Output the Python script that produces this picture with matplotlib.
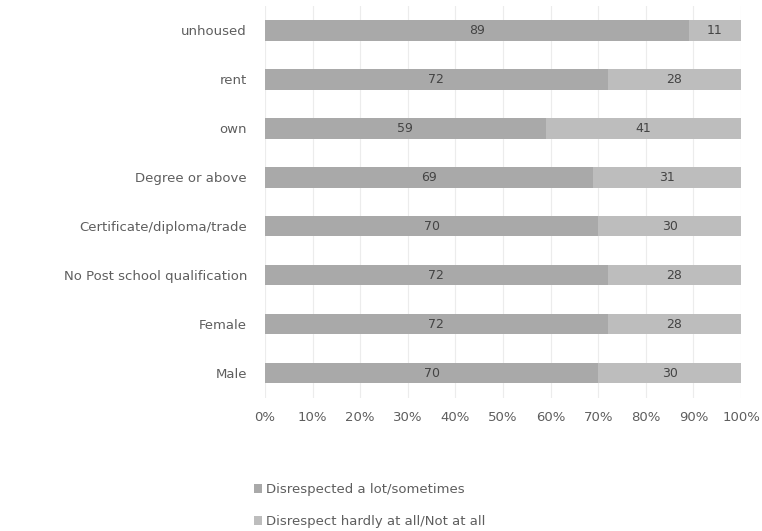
import numpy as np
import matplotlib.pyplot as plt

# categories listed bottom to top
categories = ['Male', 'Female', 'No Post school qualification',
              'Certificate/diploma/trade', 'Degree or above',
              'own', 'rent', 'unhoused']
disrespected = [70, 72, 72, 70, 69, 59, 72, 89]
not_disrespected = [30, 28, 28, 30, 31, 41, 28, 11]
series_names = ['Disrespected a lot/sometimes',
                'Disrespect hardly at all/Not at all']
xticks = np.arange(0, 101, 10)

plt.rcParams['font.family'] = ['DejaVu Sans']
txt = '#5e5e5e'

fig = plt.figure(figsize=(7.62, 5.31), dpi=100)
ax = fig.add_axes([265 / 762, 1 - 397.5 / 531, 476 / 762, 391.5 / 531])

y = np.arange(len(categories))
b1 = ax.barh(y, disrespected, height=0.42, color='#a9a9a9',
             label=series_names[0])
b2 = ax.barh(y, not_disrespected, left=disrespected, height=0.42,
             color='#bdbdbd', label=series_names[1])

for i in range(len(categories)):
    ax.text(disrespected[i] / 2, y[i], str(disrespected[i]),
            ha='center', va='center', fontsize=9, color='#444444')
    ax.text(disrespected[i] + not_disrespected[i] / 2, y[i],
            str(not_disrespected[i]), ha='center', va='center',
            fontsize=9, color='#444444')

ax.set_xlim(0, 100)
ax.set_ylim(-0.5, len(categories) - 0.5)
ax.set_xticks(xticks)
ax.set_xticklabels([f'{v}%' for v in xticks], fontsize=9.5, color=txt)
ax.set_yticks(y)
ax.set_yticklabels(categories, fontsize=9.5, color=txt)
ax.tick_params(length=0, pad=13)
ax.tick_params(axis='x', pad=10)
ax.grid(axis='x', color='#ececec', linewidth=0.8)
ax.set_axisbelow(True)
for s in ax.spines.values():
    s.set_visible(False)

fig.legend(handles=[b1, b2], loc='lower left',
           bbox_to_anchor=(242 / 762, -9 / 531), frameon=False, ncol=1,
           fontsize=9.5, labelcolor=txt, handlelength=0.6,
           handleheight=0.6, handletextpad=0.3, labelspacing=1.45)

fig.savefig('out.png', dpi=100)
